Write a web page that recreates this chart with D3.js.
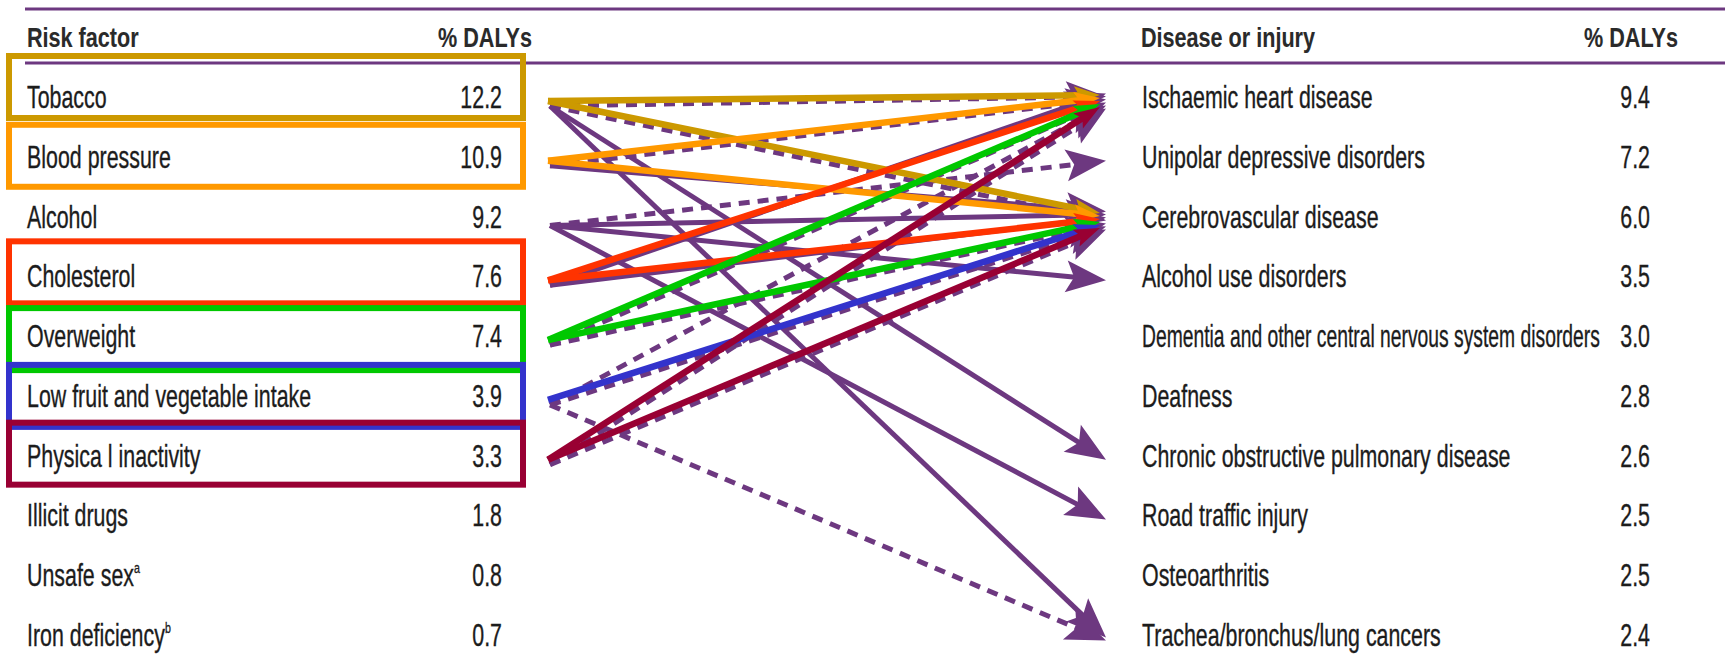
<!DOCTYPE html>
<html><head><meta charset="utf-8">
<script src="https://cdn.jsdelivr.net/npm/d3@7"></script>
<style>html,body{margin:0;padding:0;background:#fff;} svg{display:block;}</style>
</head><body><svg id="chart" width="1725" height="655"></svg>
<script>
// ---------- data ----------
const riskFactors = ["Tobacco","Blood pressure","Alcohol","Cholesterol","Overweight","Low fruit and vegetable intake","Physica l inactivity","Illicit drugs","Unsafe sex","Iron deficiency"];
const riskSuperscripts = ["","","","","","","","","a","b"];
const riskValues = ["12.2","10.9","9.2","7.6","7.4","3.9","3.3","1.8","0.8","0.7"];
const diseases = ["Ischaemic heart disease","Unipolar depressive disorders","Cerebrovascular disease","Alcohol use disorders","Dementia and other central nervous system disorders","Deafness","Chronic obstructive pulmonary disease","Road traffic injury","Osteoarthritis","Trachea/bronchus/lung cancers"];
const diseaseValues = ["9.4","7.2","6.0","3.5","3.0","2.8","2.6","2.5","2.5","2.4"];
const headerLeft = ["Risk factor","% DALYs"];
const headerRight = ["Disease or injury","% DALYs"];
const highlightedRisks = [0,1,3,4,5,6];
const highlightColours = ["#CC9900","#FF9900","#FF3300","#00C800","#3333CC","#990033"];
// links as [risk index, disease index]
const purpleSolidLinks = [[0,6],[0,9],[1,2],[2,2],[2,3],[2,7],[3,0],[3,2]];
const purpleDashedLinks = [[0,0],[0,2],[1,0],[2,1],[4,0],[4,2],[5,0],[5,2],[5,9],[6,0],[6,2]];
const colouredLinks = [[0,0],[0,2],[1,0],[1,2],[3,0],[3,2],[4,0],[4,2],[5,2],[6,0],[6,2]];

// ---------- setup ----------
const svg = d3.select("#chart");
const W = 1725, H = 655;
const PURPLE = "#6D3880";
const y = d3.scaleLinear().domain([0, 9]).range([97, 635]);
const xLink = d3.scaleLinear().domain([0, 1]).range([548, 1102]);
const colourOf = d3.scaleOrdinal().domain(highlightedRisks).range(highlightColours);

// condensed text helper: renders with a narrow face, scaled to a target width ratio
const FONT = "'Liberation Sans Narrow','Liberation Sans',Arial,sans-serif";
const measureG = svg.append("g").attr("opacity", 0);
function measure(str, size, weight, family) {
  const t = measureG.append("text").attr("font-family", family).attr("font-size", size)
    .attr("font-weight", weight).text(str);
  const w = t.node().getComputedTextLength(); t.remove(); return w;
}
function condensedText(parent, x, yy, str, o) {
  const size = o.size, weight = o.weight || "normal", ratio = o.ratio;
  const wA = measure(str, size, weight, "'Liberation Sans',Arial,sans-serif");
  const wN = measure(str, size, weight, FONT);
  let target = wA * ratio;
  if (o.maxW && target > o.maxW) target = o.maxW;
  const sx = target / wN;
  const fill = o.fill || "#1c1c1c";
  const g = parent.append("g").attr("transform", `translate(${x},${yy}) scale(${sx},1)`);
  const t = g.append("text").attr("font-family", FONT).attr("font-size", size)
    .attr("font-weight", weight).attr("fill", fill)
    .attr("stroke", fill).attr("stroke-width", o.stroke || 0.35)
    .attr("text-anchor", o.anchor || "start").text(str);
  if (o.sup) {
    t.append("tspan").attr("font-size", size * 0.5).attr("dy", -13).text(o.sup);
  }
  return g;
}

// ---------- header rules ----------
svg.append("g").selectAll("line").data([9, 63]).join("line")
  .attr("x1", 25).attr("x2", W).attr("y1", d => d).attr("y2", d => d)
  .attr("stroke", PURPLE).attr("stroke-width", 3);

// ---------- headers ----------
const hdr = svg.append("g");
const hOpt = { size: 27, weight: "bold", ratio: 0.8, fill: "#2a2a2a", stroke: 0.1 };
condensedText(hdr, 27, 47, headerLeft[0], hOpt);
condensedText(hdr, 532, 47, headerLeft[1], { ...hOpt, anchor: "end" });
condensedText(hdr, 1141, 47, headerRight[0], hOpt);
condensedText(hdr, 1678, 47, headerRight[1], { ...hOpt, anchor: "end" });

// ---------- row labels ----------
const body = svg.append("g");
const bOpt = { size: 31, ratio: 0.69 };
riskFactors.forEach((r, i) => {
  condensedText(body, 27, y(i) + 11, r, { ...bOpt, sup: riskSuperscripts[i] || null });
  condensedText(body, 502, y(i) + 11, riskValues[i], { ...bOpt, anchor: "end" });
});
diseases.forEach((d, i) => {
  condensedText(body, 1142, y(i) + 11, d, { ...bOpt, maxW: 458 });
  condensedText(body, 1650, y(i) + 11, diseaseValues[i], { ...bOpt, anchor: "end" });
});

// ---------- highlight boxes ----------
const boxShift = [-10, -1, null, -4, 3, 0, -2];
svg.append("g").selectAll("rect").data(highlightedRisks).join("rect")
  .attr("x", 9).attr("width", 514)
  .attr("y", i => y(i) - 31 + boxShift[i]).attr("height", 62)
  .attr("fill", "none").attr("stroke", i => colourOf(i)).attr("stroke-width", 6);

// ---------- arrows ----------
function arrow(g, x1, y1, x2, y2, colour, width, dash, headL, headW) {
  const dx = x2 - x1, dy = y2 - y1, len = Math.hypot(dx, dy);
  const ux = dx / len, uy = dy / len, nx = -uy, ny = ux;
  g.append("line").attr("x1", x1).attr("y1", y1)
    .attr("x2", x2 - ux * headL * 0.7).attr("y2", y2 - uy * headL * 0.7)
    .attr("stroke", colour).attr("stroke-width", width)
    .attr("stroke-dasharray", dash || null);
  const bx = x2 - ux * headL, by = y2 - uy * headL;
  const p = d3.path();
  p.moveTo(x2, y2);
  p.lineTo(bx + nx * headW / 2, by + ny * headW / 2);
  p.lineTo(x2 - ux * headL * 0.8, y2 - uy * headL * 0.8);
  p.lineTo(bx - nx * headW / 2, by - ny * headW / 2);
  p.closePath();
  g.append("path").attr("d", p.toString()).attr("fill", colour);
}

// spread of converging tips per target
function spreadFor(links) {
  const m = new Map();
  const byT = d3.group(links.map((l, k) => ({ l, k })), d => d.l[1]);
  byT.forEach(arr => arr.forEach((d, j) => m.set(d.k, (j - (arr.length - 1) / 2) * 3)));
  return m;
}

const purpleG = svg.append("g");
const allPurple = purpleSolidLinks.map(l => ({ l, dash: null }))
  .concat(purpleDashedLinks.map(l => ({ l, dash: "11,8" })));
const pSpread = spreadFor(allPurple.map(d => d.l));
allPurple.forEach((d, k) => {
  const [s, t] = d.l;
  arrow(purpleG, xLink(0) + 2, y(s) + 9, xLink(1) + 4, y(t) + 4 + pSpread.get(k),
        PURPLE, 5, d.dash, 40, 32);
});

const colG = svg.append("g");
const cSpread = spreadFor(colouredLinks);
colouredLinks.forEach((l, k) => {
  const [s, t] = l;
  arrow(colG, xLink(0), y(s) + 4, xLink(1) - 2, y(t) + 4 + cSpread.get(k),
        colourOf(s), 6.5, null, 26, 18);
});
</script>
</body></html>
